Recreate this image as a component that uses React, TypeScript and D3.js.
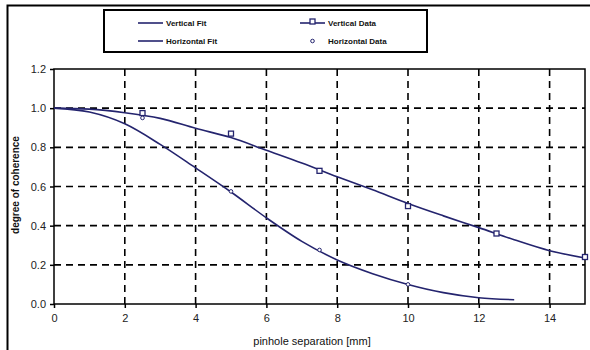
import React, { useEffect, useRef } from "react";
import * as d3 from "d3";

// fitted curves
const verticalFitX = [0, 1, 2, 3, 4, 5, 6, 7, 8, 9, 10, 11, 12, 13, 14, 15];
const verticalFitY = [1.0, 0.995, 0.977, 0.948, 0.897, 0.85, 0.785, 0.72, 0.65, 0.583, 0.513, 0.45, 0.39, 0.328, 0.272, 0.235];
const horizontalFitX = [0, 1, 2, 3, 4, 5, 6, 7, 8, 9, 10, 11, 12, 13];
const horizontalFitY = [1.0, 0.98, 0.92, 0.815, 0.695, 0.572, 0.44, 0.32, 0.225, 0.155, 0.1, 0.058, 0.032, 0.022];

// measured points
const dataX = [2.5, 5, 7.5, 10, 12.5, 15];
const verticalDataY = [0.975, 0.87, 0.68, 0.5, 0.36, 0.24];
const horizontalDataX = [2.5, 5, 7.5, 10];
const horizontalDataY = [0.95, 0.575, 0.276, 0.1];

const xTicks = [0, 2, 4, 6, 8, 10, 12, 14];
const yTicks = [0, 0.2, 0.4, 0.6, 0.8, 1.0, 1.2];

const legendItems = ["Vertical Fit", "Vertical Data", "Horizontal Fit", "Horizontal Data"];

const W = 590, H = 350;
const navy = "#24246e";
const font = "Liberation Sans, Arial, sans-serif";

const App = () => {
  const svgRef = useRef<SVGSVGElement>(null);

  useEffect(() => {
    const svg = d3.select(svgRef.current);
    svg.selectAll("*").remove();

    const left = 54, right = 585, top = 69, bottom = 304;
    const x = d3.scaleLinear().domain([0, 15]).range([left, right]);
    const y = d3.scaleLinear().domain([0, 1.2]).range([bottom, top]);

    svg.append("rect").attr("width", W).attr("height", H).attr("fill", "#fff");

    // outer frame (only left + top visible)
    svg.append("path")
      .attr("d", `M7.5,${H}V5.5H${W}`)
      .attr("fill", "none").attr("stroke", "#000").attr("stroke-width", 2);

    // grid
    const grid = svg.append("g").attr("stroke", "#000").attr("stroke-width", 1.6).attr("stroke-dasharray", "7,5");
    grid.selectAll("line.gx").data(xTicks.filter(d => d > 0)).enter().append("line")
      .attr("x1", d => x(d)).attr("x2", d => x(d)).attr("y1", top).attr("y2", bottom);
    grid.selectAll("line.gy").data(yTicks.filter(d => d > 0 && d < 1.2)).enter().append("line")
      .attr("y1", d => y(d)).attr("y2", d => y(d)).attr("x1", left).attr("x2", right);

    // plot border
    svg.append("rect")
      .attr("x", left).attr("y", top).attr("width", right - left).attr("height", bottom - top)
      .attr("fill", "none").attr("stroke", "#000").attr("stroke-width", 1.5);

    // axes
    const xAxis = svg.append("g").attr("transform", `translate(0,${bottom})`)
      .call(d3.axisBottom(x).tickValues(xTicks).tickSize(4).tickPadding(6).tickFormat(d3.format("d")));
    const yAxis = svg.append("g").attr("transform", `translate(${left},0)`)
      .call(d3.axisLeft(y).tickValues(yTicks).tickSize(4).tickPadding(4).tickFormat(d3.format(".1f")));
    [xAxis, yAxis].forEach(a => {
      a.select(".domain").remove();
      a.selectAll("line").attr("stroke", "#000").attr("stroke-width", 1.5);
      a.selectAll("text").attr("font-family", font).attr("font-size", 11).attr("fill", "#222");
    });

    // axis titles
    svg.append("text").attr("x", 312).attr("y", 345).attr("text-anchor", "middle")
      .attr("font-family", font).attr("font-size", 11).attr("fill", "#111")
      .text("pinhole separation [mm]");
    svg.append("text").attr("transform", `translate(19,185) rotate(-90)`).attr("text-anchor", "middle")
      .attr("font-family", font).attr("font-size", 10).attr("font-weight", "bold").attr("fill", "#111")
      .text("degree of coherence");

    // curves
    const lineGen = d3.line<[number, number]>().x(d => x(d[0])).y(d => y(d[1])).curve(d3.curveMonotoneX);
    const vFit = verticalFitX.map((v, i) => [v, verticalFitY[i]] as [number, number]);
    const hFit = horizontalFitX.map((v, i) => [v, horizontalFitY[i]] as [number, number]);
    [vFit, hFit].forEach(pts => {
      svg.append("path").datum(pts).attr("d", lineGen)
        .attr("fill", "none").attr("stroke", navy).attr("stroke-width", 1.6);
    });

    // data markers
    svg.selectAll("rect.vd").data(dataX).enter().append("rect")
      .attr("x", d => x(d) - 2.5).attr("y", (d, i) => y(verticalDataY[i]) - 2.5)
      .attr("width", 5).attr("height", 5)
      .attr("fill", "#fff").attr("stroke", navy).attr("stroke-width", 1.3);
    svg.selectAll("circle.hd").data(horizontalDataX).enter().append("circle")
      .attr("cx", d => x(d)).attr("cy", (d, i) => y(horizontalDataY[i])).attr("r", 1.8)
      .attr("fill", "#fff").attr("stroke", navy).attr("stroke-width", 1);

    // legend
    const lg = svg.append("g");
    lg.append("rect").attr("x", 104).attr("y", 10).attr("width", 323).attr("height", 42)
      .attr("fill", "#fff").attr("stroke", "#000").attr("stroke-width", 2);
    const pos = [[138, 23], [300, 23], [138, 41], [300, 41]];
    legendItems.forEach((label, i) => {
      const [lx, ly] = pos[i];
      if (i !== 3) {
        lg.append("line").attr("x1", lx).attr("x2", lx + 25).attr("y1", ly).attr("y2", ly)
          .attr("stroke", navy).attr("stroke-width", 1.6);
      }
      if (i === 1) {
        lg.append("rect").attr("x", lx + 10).attr("y", ly - 4).attr("width", 5).attr("height", 5)
          .attr("fill", "#fff").attr("stroke", navy).attr("stroke-width", 1.3);
      }
      if (i === 3) {
        lg.append("circle").attr("cx", lx + 12.5).attr("cy", ly).attr("r", 1.8)
          .attr("fill", "#fff").attr("stroke", navy).attr("stroke-width", 1);
      }
      lg.append("text").attr("x", lx + 28).attr("y", ly + 3)
        .attr("font-family", font).attr("font-size", 8).attr("font-weight", "bold").attr("fill", "#111")
        .text(label);
    });
  }, []);

  return (
    <div style={{ position: "absolute", left: 0, top: 0 }}>
      <svg ref={svgRef} width={W} height={H} style={{ display: "block" }} />
    </div>
  );
};

export default App;
